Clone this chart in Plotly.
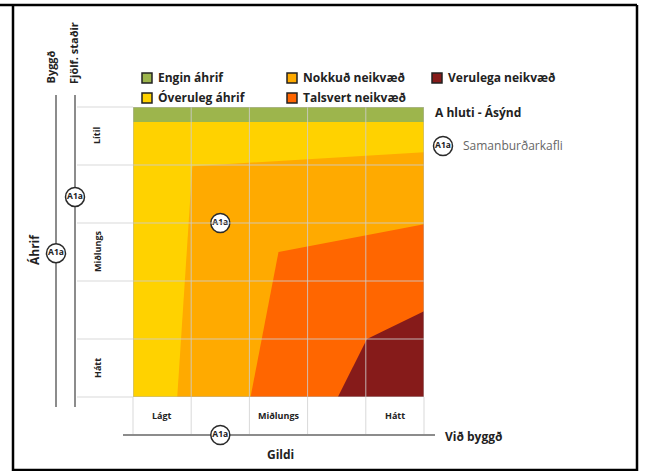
import plotly.graph_objects as go

# **** Data

categories = ["Engin áhrif", "Óveruleg áhrif", "Nokkuð neikvæð", "Talsvert neikvæð", "Verulega neikvæð"]
category_colors = ["#9db54c", "#ffd200", "#ffaa00", "#ff6600", "#861b1a"]

# zone outlines, x = Gildi (0-5), y = Áhrif (0-5)
engin_x = [0, 5, 5, 0]
engin_y = [4.74, 4.74, 5, 5]
overuleg_x = [0, 5, 5, 0]
overuleg_y = [0, 0, 4.74, 4.74]
nokkud_x = [0.76, 1.02, 5, 5]
nokkud_y = [0, 3.98, 4.22, 0]
talsvert_x = [2.02, 2.5, 5, 5]
talsvert_y = [0, 2.5, 2.98, 0]
verulega_x = [3.52, 4.02, 5, 5]
verulega_y = [0, 1.0, 1.48, 0]

zones_x = [engin_x, overuleg_x, nokkud_x, talsvert_x, verulega_x]
zones_y = [engin_y, overuleg_y, nokkud_y, talsvert_y, verulega_y]

ahrif_labels = ["Hátt", "", "Miðlungs", "", "Lítil"]   # bottom to top
gildi_labels = ["Lágt", "", "Miðlungs", "", "Hátt"]

point_label = "A1a"
point_gildi = 1.5
point_ahrif = 3.0
byggd_ahrif = 2.48
fjolf_ahrif = 3.45
vid_byggd_gildi = 1.5

# **** Layout settings (pixels)
W, H = 646, 471
L, R, T, B = 133, 424, 107, 397
font_family = "Open Sans, Lato, sans-serif"
text_color = "#222222"
axis_line_color = "#8c8c8c"
cell_line_color = "#d9d9d9"


def fx(px):
    return px / W


def fy(py):
    return 1 - py / H


def dx(px):
    return (px - L) / (R - L) * 5


def dy(py):
    return (B - py) / (B - T) * 5


fig = go.Figure()

for i, name in enumerate(categories):
    fig.add_trace(go.Scatter(
        x=zones_x[i], y=zones_y[i], fill="toself", mode="none",
        fillcolor=category_colors[i], name=name, hoverinfo="name", showlegend=False
    ))

shapes = []
annotations = []

# grid inside plot, drawn above colours
for k in range(1, 5):
    shapes.append(dict(type="line", xref="x", yref="y", x0=k, x1=k, y0=0, y1=5,
                       line=dict(color="rgba(205,205,205,0.85)", width=1), layer="above"))
    shapes.append(dict(type="line", xref="x", yref="y", x0=0, x1=5, y0=k, y1=k,
                       line=dict(color="rgba(205,205,205,0.85)", width=1), layer="above"))
shapes.append(dict(type="rect", xref="x", yref="y", x0=0, x1=5, y0=0, y1=5,
                   line=dict(color="#b5b5b5", width=1), layer="above"))

# row label cells (left) and column label cells (bottom)
row_h = (B - T) / 5
col_w = (R - L) / 5
for k in range(6):
    yy = T + k * row_h
    shapes.append(dict(type="line", xref="paper", yref="paper", x0=fx(77), x1=fx(L),
                       y0=fy(yy), y1=fy(yy), line=dict(color=cell_line_color, width=1), layer="below"))
    xx = L + k * col_w
    shapes.append(dict(type="line", xref="paper", yref="paper", x0=fx(xx), x1=fx(xx),
                       y0=fy(B), y1=fy(435), line=dict(color=cell_line_color, width=1), layer="below"))

for k, lab in enumerate(ahrif_labels):
    if lab:
        annotations.append(dict(x=fx(97), y=fy(B - (k + 0.5) * row_h),
                                text="<b>" + lab + "</b>", textangle=-90,
                                font=dict(size=9, color=text_color, family=font_family)))
for k, lab in enumerate(gildi_labels):
    if lab:
        annotations.append(dict(x=fx(L + (k + 0.5) * col_w), y=fy(415),
                                text="<b>" + lab + "</b>",
                                font=dict(size=9, color=text_color, family=font_family)))

# axis lines
axis_line = dict(color=axis_line_color, width=2)
shapes.append(dict(type="line", xref="paper", yref="paper", x0=fx(56), x1=fx(56), y0=fy(95), y1=fy(407),
                   line=axis_line, layer="below"))
shapes.append(dict(type="line", xref="paper", yref="paper", x0=fx(75), x1=fx(75), y0=fy(95), y1=fy(407),
                   line=axis_line, layer="below"))
shapes.append(dict(type="line", xref="paper", yref="paper", x0=fx(123), x1=fx(435), y0=fy(435), y1=fy(435),
                   line=axis_line, layer="below"))

# outer frame
frame = dict(color="black", width=2.5)
shapes.append(dict(type="line", xref="paper", yref="paper", x0=fx(0), x1=fx(637), y0=fy(5), y1=fy(5), line=frame))
shapes.append(dict(type="line", xref="paper", yref="paper", x0=fx(13), x1=fx(13), y0=fy(5), y1=fy(471), line=frame))
shapes.append(dict(type="line", xref="paper", yref="paper", x0=fx(637), x1=fx(637), y0=fy(5), y1=fy(471), line=frame))
shapes.append(dict(type="line", xref="paper", yref="paper", x0=fx(13), x1=fx(637), y0=fy(470), y1=fy(470), line=frame))

# legend
legend_pos = [(147, 78), (147, 98), (292, 78), (292, 98), (437, 78)]
for i, name in enumerate(categories):
    cx, cy = legend_pos[i]
    shapes.append(dict(type="rect", xref="paper", yref="paper", x0=fx(cx - 5), x1=fx(cx + 5),
                       y0=fy(cy - 5), y1=fy(cy + 5), fillcolor=category_colors[i],
                       line=dict(color="#222222", width=1.5)))
    annotations.append(dict(x=fx(cx + 9), y=fy(cy), xanchor="left",
                            text="<b>" + name + "</b>",
                            font=dict(size=12, color=text_color, family=font_family)))

# titles
annotations += [
    dict(x=fx(433), y=fy(113), text="<b>A hluti - Ásýnd</b>", xanchor="left",
         font=dict(size=12, color=text_color, family=font_family)),
    dict(x=fx(461), y=fy(146), text="Samanburðarkafli", xanchor="left",
         font=dict(size=12, color="#666666", family=font_family)),
    dict(x=fx(443), y=fy(436), text="<b>Við byggð</b>", xanchor="left",
         font=dict(size=12, color=text_color, family=font_family)),
    dict(x=fx(280), y=fy(454), text="<b>Gildi</b>",
         font=dict(size=12, color=text_color, family=font_family)),
    dict(x=fx(34), y=fy(250), text="<b>Áhrif</b>", textangle=-90,
         font=dict(size=12, color=text_color, family=font_family)),
    dict(x=fx(50), y=fy(86), text="<b>Byggð</b>", textangle=-90, yanchor="bottom",
         font=dict(size=11, color=text_color, family=font_family)),
    dict(x=fx(74), y=fy(86), text="<b>Fjölf. staðir</b>", textangle=-90, yanchor="bottom",
         font=dict(size=11, color=text_color, family=font_family)),
]
for a in annotations:
    a.setdefault("xref", "paper")
    a.setdefault("yref", "paper")
    a.setdefault("showarrow", False)
    a.setdefault("xanchor", "center")
    a.setdefault("yanchor", "middle")

# A1a markers, on a full-page overlay axis with the same scale as the chart
marker_x = [point_gildi, dx(56), dx(75), vid_byggd_gildi, dx(443)]
marker_y = [point_ahrif, byggd_ahrif, fjolf_ahrif, dy(435), dy(146)]
fig.add_trace(go.Scatter(
    x=marker_x, y=marker_y, xaxis="x2", yaxis="y2",
    mode="markers+text", text=["<b>" + point_label + "</b>"] * 5,
    textposition="middle center", showlegend=False, hoverinfo="skip",
    marker=dict(size=19, color="white", line=dict(color="#2a2a2a", width=1.5)),
    textfont=dict(size=8.5, color="#222222", family=font_family)
))

fig.update_layout(
    width=W, height=H,
    margin=dict(l=0, r=0, t=0, b=0),
    paper_bgcolor="white", plot_bgcolor="rgba(0,0,0,0)",
    shapes=shapes, annotations=annotations,
    showlegend=False,
    xaxis=dict(domain=[fx(L), fx(R)], range=[0, 5], showgrid=False, zeroline=False,
               showticklabels=False, fixedrange=True),
    yaxis=dict(domain=[fy(B), fy(T)], range=[0, 5], showgrid=False, zeroline=False,
               showticklabels=False, fixedrange=True),
    xaxis2=dict(domain=[0, 1], range=[dx(0), dx(W)], anchor="y2", visible=False, fixedrange=True),
    yaxis2=dict(domain=[0, 1], range=[dy(H), dy(0)], anchor="x2", visible=False, fixedrange=True),
)

fig.write_html("out.html", config={"displayModeBar": False},
               post_script="document.body.style.margin='0px';")
